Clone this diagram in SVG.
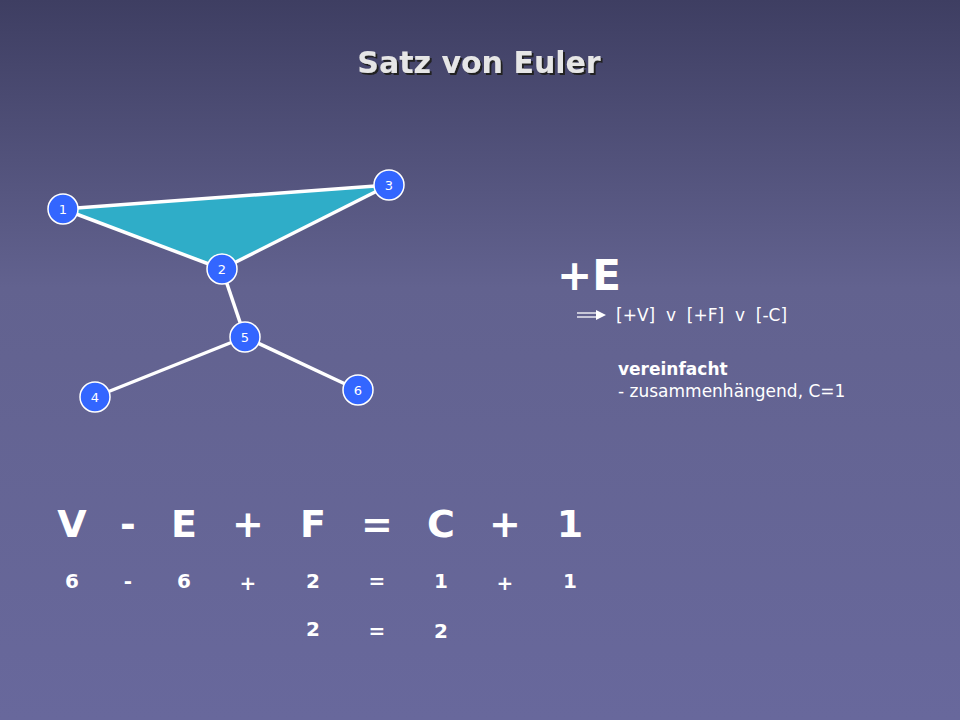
<svg xmlns="http://www.w3.org/2000/svg" width="960" height="720" viewBox="0 0 960 720">
<defs>
<linearGradient id="bg" x1="0" y1="0" x2="0" y2="1">
<stop offset="0" stop-color="#3e3e62"/><stop offset="0.4" stop-color="#62628f"/><stop offset="1" stop-color="#68689c"/>
</linearGradient>
<filter id="sh" x="-10%" y="-30%" width="120%" height="160%"><feDropShadow dx="2" dy="2" stdDeviation="0.5" flood-color="#222"/></filter>
</defs>
<style>
.n circle{fill:#3366ff;stroke:#fff;stroke-width:1.5}
.n text{font-family:"DejaVu Sans",sans-serif;font-size:13px;fill:#fff;text-anchor:middle}
.e line{stroke:#fff;stroke-width:3.5}
.big{font-family:"DejaVu Sans",sans-serif;font-weight:bold;font-size:38px;fill:#fff;text-anchor:middle}
.mid{font-family:"DejaVu Sans",sans-serif;font-weight:bold;font-size:20px;fill:#fff;text-anchor:middle}
.sm{font-family:"DejaVu Sans",sans-serif;font-size:17px;fill:#fff}
</style>
<rect width="960" height="720" fill="url(#bg)"/>
<text x="479" y="73" font-family="DejaVu Sans,sans-serif" font-weight="bold" font-size="30" fill="#e6e6e6" text-anchor="middle" filter="url(#sh)">Satz von Euler</text>
<polygon points="63,209 389,185 222,269" fill="#2fadc8"/>
<g id="edges" class="e">
<line x1="63" y1="209" x2="389" y2="185"/>
<line x1="63" y1="209" x2="222" y2="269"/>
<line x1="389" y1="185" x2="222" y2="269"/>
<line x1="222" y1="269" x2="245" y2="337"/>
<line x1="245" y1="337" x2="95" y2="397"/>
<line x1="245" y1="337" x2="358" y2="390"/>
</g>
<g id="n1" class="n"><circle cx="63" cy="209" r="15"/><text x="63" y="214">1</text></g>
<g id="n2" class="n"><circle cx="222" cy="269" r="15"/><text x="222" y="274">2</text></g>
<g id="n3" class="n"><circle cx="389" cy="185" r="15"/><text x="389" y="190">3</text></g>
<g id="n4" class="n"><circle cx="95" cy="397" r="15"/><text x="95" y="402">4</text></g>
<g id="n5" class="n"><circle cx="245" cy="337" r="15"/><text x="245" y="342">5</text></g>
<g id="n6" class="n"><circle cx="358" cy="390" r="15"/><text x="358" y="395">6</text></g>
<text x="557" y="290" font-family="DejaVu Sans,sans-serif" font-weight="bold" font-size="42" fill="#fff">+E</text>
<g stroke="#fff" stroke-width="1.3"><line x1="577" y1="313" x2="598" y2="313"/><line x1="577" y1="317" x2="598" y2="317"/></g>
<path d="M596,310 L606,315 L596,320 z" fill="#fff"/>
<text x="616" y="321" class="sm" xml:space="preserve">[+V]  v  [+F]  v  [-C]</text>
<text x="618" y="375" class="sm" font-weight="bold">vereinfacht</text>
<text x="618" y="397" class="sm">- zusammenhängend, C=1</text>
<g class="big">
<text x="72" y="537">V</text><text x="128" y="537">-</text><text x="184" y="537">E</text><text x="248" y="537">+</text><text x="313" y="537">F</text><text x="377" y="537">=</text><text x="441" y="537">C</text><text x="505" y="537">+</text><text x="570" y="537">1</text>
</g>
<g class="mid">
<text x="72" y="588">6</text><text x="128" y="588">-</text><text x="184" y="588">6</text><text x="248" y="590">+</text><text x="313" y="588">2</text><text x="377" y="588">=</text><text x="441" y="588">1</text><text x="505" y="590">+</text><text x="570" y="588">1</text>
<text x="313" y="636">2</text><text x="377" y="638">=</text><text x="441" y="638">2</text>
</g>
</svg>
